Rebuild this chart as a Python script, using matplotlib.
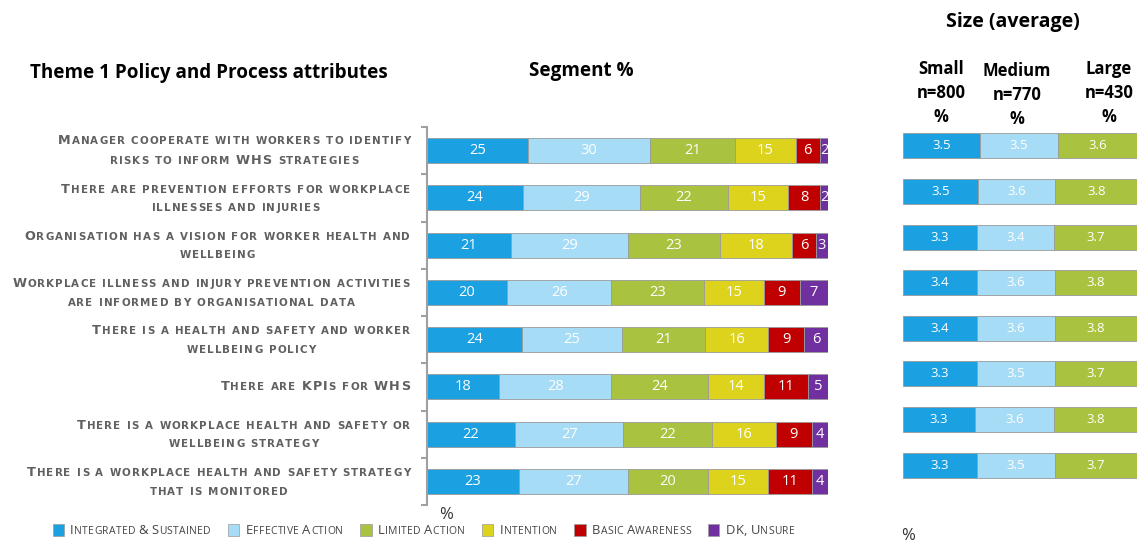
import matplotlib
matplotlib.use("Agg")
import matplotlib.pyplot as plt
import numpy as np
from matplotlib.offsetbox import TextArea, HPacker, VPacker, AnnotationBbox, DrawingArea
from matplotlib.patches import Rectangle
from matplotlib.transforms import blended_transform_factory

plt.rcParams['font.family'] = ['Open Sans', 'DejaVu Sans']

# data
statements = [
    ["Manager cooperate with workers to identify", "risks to inform WHS strategies"],
    ["There are prevention efforts for workplace", "illnesses and injuries"],
    ["Organisation has a vision for worker health and", "wellbeing"],
    ["Workplace illness and injury prevention activities", "are informed by organisational data"],
    ["There is a health and safety and worker", "wellbeing policy"],
    ["There are KPIs for WHS"],
    ["There is a workplace health and safety or", "wellbeing strategy"],
    ["There is a workplace health and safety strategy", "that is monitored"],
]
segments = ["Integrated & Sustained", "Effective Action", "Limited Action",
            "Intention", "Basic Awareness", "DK, Unsure"]
seg_colors = ["#1ba1e2", "#a6dcf5", "#a9c23f", "#ddd21c", "#c00000", "#7030a0"]

integrated = [25, 24, 21, 20, 24, 18, 22, 23]
effective = [30, 29, 29, 26, 25, 28, 27, 27]
limited = [21, 22, 23, 23, 21, 24, 22, 20]
intention = [15, 15, 18, 15, 16, 14, 16, 15]
basic = [6, 8, 6, 9, 9, 11, 9, 11]
dk_unsure = [2, 2, 3, 7, 6, 5, 4, 4]

size_headers = ["Small\nn=800\n%", "Medium\nn=770\n%", "Large\nn=430\n%"]
small = [3.5, 3.5, 3.3, 3.4, 3.4, 3.3, 3.3, 3.3]
medium = [3.5, 3.6, 3.4, 3.6, 3.6, 3.5, 3.6, 3.5]
large = [3.6, 3.8, 3.7, 3.8, 3.8, 3.7, 3.8, 3.7]

W, H = 1139, 542
fig = plt.figure(figsize=(W / 100, H / 100), dpi=100)


def fx(px):
    return px / W


def fy(py):
    return 1 - py / H


def smallcaps(s, big, small_sz, color, weight="bold", family="DejaVu Sans", wsep=4, track=0.0):
    # fake small caps: capitals drawn big, the rest upper-cased smaller, with letter spacing
    words = []
    for word in s.split(" "):
        parts = []
        for ch in word:
            b = ch.isupper() or ch.isdigit() or ch in "&,"
            parts.append(TextArea(ch.upper(), textprops=dict(fontsize=big if b else small_sz,
                                                            color=color, fontweight=weight,
                                                            family=family)))
        words.append(HPacker(children=parts, align="baseline", pad=0, sep=track))
    return HPacker(children=words, align="baseline", pad=0, sep=wsep)


# segment chart
ax = fig.add_axes([fx(427), fy(505), fx(828) - fx(427), fy(127) - fy(505)])
seg_data = np.array([integrated, effective, limited, intention, basic, dk_unsure], dtype=float)
seg_pct = seg_data / seg_data.sum(axis=0) * 100
y = np.arange(len(statements))
left = np.zeros(len(statements))
for k in range(len(segments)):
    ax.barh(y, seg_pct[k], left=left, height=0.53, color=seg_colors[k],
            edgecolor="#9a9a9a", linewidth=0.6)
    for i in range(len(statements)):
        ax.text(left[i] + seg_pct[k][i] / 2, y[i], str(int(seg_data[k][i])),
                ha="center", va="center", color="white", fontsize=10.5)
    left += seg_pct[k]
ax.set_xlim(0, 100)
ax.set_ylim(len(statements) - 0.5, -0.5)
for s in ["top", "right", "bottom"]:
    ax.spines[s].set_visible(False)
ax.spines["left"].set_color("#a0a0a0")
ax.spines["left"].set_linewidth(1.5)
ax.set_xticks([])
ax.set_yticks(np.arange(-0.5, len(statements), 1))
ax.set_yticklabels([])
ax.tick_params(axis="y", length=4, color="#a0a0a0", width=1.5)

# statement labels
trans = blended_transform_factory(fig.transFigure, ax.transData)
for i, lines in enumerate(statements):
    box = VPacker(children=[smallcaps(l, 9.2, 7.4, "#606060", wsep=4.5, track=0.75) for l in lines],
                  align="center", pad=0, sep=5.5)
    ab = AnnotationBbox(box, (fx(410), y[i]), xycoords=trans, box_alignment=(1, 0.5),
                        frameon=False, pad=0)
    fig.add_artist(ab)

# size chart
ax2 = fig.add_axes([fx(903), fy(488), fx(1137) - fx(903), fy(123) - fy(488)])
size_data = np.array([small, medium, large])
size_pct = size_data / size_data.sum(axis=0) * 100
left = np.zeros(len(statements))
for k in range(3):
    ax2.barh(y, size_pct[k], left=left, height=0.55, color=seg_colors[k],
             edgecolor="#9a9a9a", linewidth=0.6)
    for i in range(len(statements)):
        ax2.text(left[i] + size_pct[k][i] / 2, y[i], f"{size_data[k][i]:.1f}",
                 ha="center", va="center", color="white", fontsize=9.5)
    left += size_pct[k]
ax2.set_xlim(0, 100)
ax2.set_ylim(len(statements) - 0.5, -0.5)
ax2.axis("off")

# titles
fig.text(fx(30), fy(73), "Theme 1 Policy and Process attributes", fontsize=13.6,
         fontweight="bold", va="center", ha="left")
fig.text(fx(581), fy(71), "Segment %", fontsize=13.6, fontweight="bold", va="center", ha="center")
fig.text(fx(1013), fy(22), "Size (average)", fontsize=14, fontweight="bold", va="center", ha="center")
for hx, hy, h in zip([941, 1017, 1109], [93, 95, 93], size_headers):
    fig.text(fx(hx), fy(hy), h, fontsize=12, fontweight="bold", va="center", ha="center",
             linespacing=1.45)
fig.text(fx(446), fy(515), "%", fontsize=12, ha="center", va="center", color="#333333")
fig.text(fx(908), fy(536), "%", fontsize=12, ha="center", va="center", color="#333333")

# legend
items = []
for name, col in zip(segments, seg_colors):
    da = DrawingArea(9, 9, 0, 0)
    da.add_artist(Rectangle((0.5, 0.5), 8, 8, facecolor=col, edgecolor="#9a9a9a", linewidth=0.5))
    items.append(HPacker(children=[da, smallcaps(name, 9.4, 7.5, "#444444", weight="normal",
                                                 family="Open Sans", wsep=2.5, track=0.25)],
                         align="center", pad=0, sep=4))
leg = HPacker(children=items, align="center", pad=0, sep=12)
fig.add_artist(AnnotationBbox(leg, (fx(52), fy(530)), xycoords="figure fraction",
                              box_alignment=(0, 0.5), frameon=False, pad=0))

fig.savefig("out.png", dpi=100)
